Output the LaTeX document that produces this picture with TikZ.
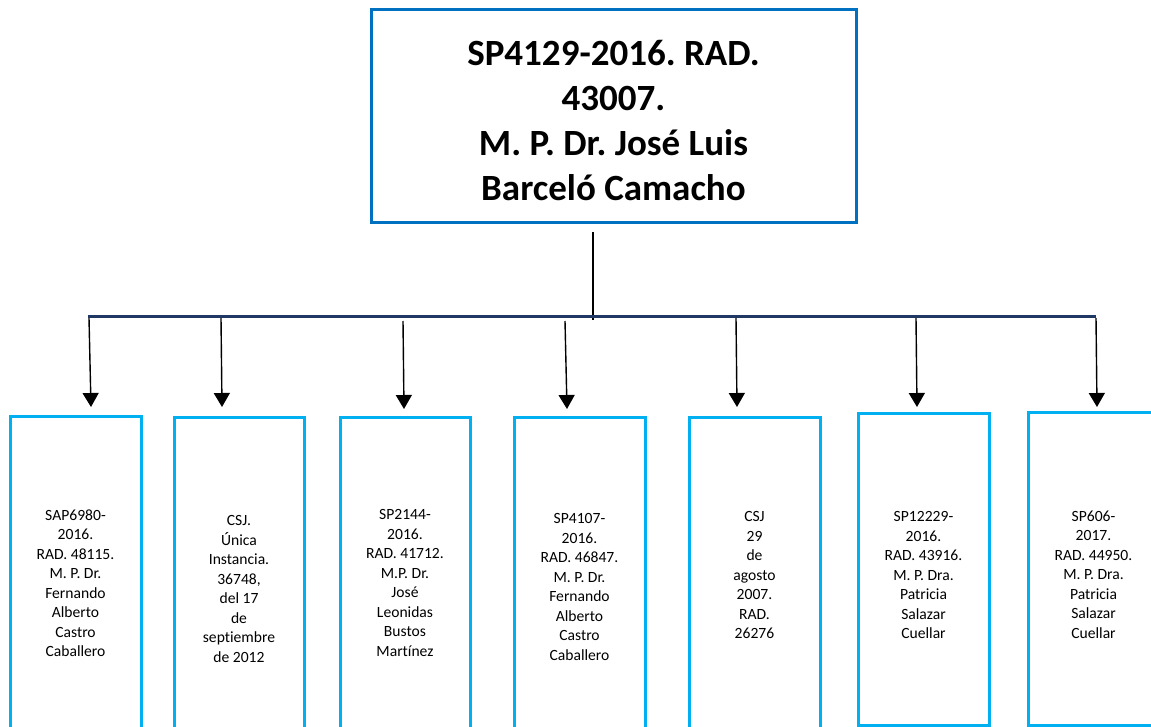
\documentclass[tikz,border=0pt]{standalone}
\usepackage{fontspec}
\setmainfont{Carlito}[Ligatures={NoCommon}]
\usetikzlibrary{arrows.meta}
\definecolor{topblue}{HTML}{0070C0}
\definecolor{cyanb}{HTML}{00B0F0}
\definecolor{navyb}{HTML}{1F3864}
\frenchspacing
\begin{document}
\frenchspacing
\begin{tikzpicture}[x=1pt,y=-1pt,
  titlebox/.style={draw=topblue,line width=3pt,minimum width=485pt,minimum height=213pt,inner sep=0pt,align=center,font=\fontsize{37}{45}\selectfont\bfseries},
  leafbox/.style={draw=cyanb,line width=3pt,minimum width=131pt,inner sep=0pt,align=center,font=\fontsize{15.6}{19.5}\selectfont},
  arr/.style={-{Triangle[width=16pt,length=14pt]},line width=1.4pt,black},
  bus/.style={draw=navyb,line width=3pt},
  stem/.style={draw=black,line width=2pt},
]
\useasboundingbox (0,0) rectangle (1151,727);
\clip (0,0) rectangle (1151,727);

\node[titlebox] (top) at (613.5,116.5) {\rule{0pt}{34pt}SP4129-2016. RAD.\\43007.\\M. P. Dr. José Luis\\Barceló Camacho};

\coordinate (stemtop) at (593,232);
\coordinate (stembot) at (593,320);
\draw[stem] (stemtop) -- (stembot);

\coordinate (busL) at (88,316);
\coordinate (busR) at (1096,316);
\draw[bus] (busL) -- (busR);

\node[leafbox,minimum height=334pt] (b1) at (75.5,583) {SAP6980-\\2016.\\RAD. 48115.\\M. P. Dr.\\Fernando\\Alberto\\Castro\\Caballero};
\node[leafbox,minimum height=344pt,minimum width=130pt] (b2) at (239,589) {CSJ.\\Única\\Instancia.\\36748,\\del 17\\de\\septiembre\\de 2012};
\node[leafbox,minimum height=332pt,minimum width=130pt] (b3) at (405,583) {SP2144-\\2016.\\RAD. 41712.\\M.P. Dr.\\José\\Leonidas\\Bustos\\Martínez};
\node[leafbox,minimum height=340pt] (b4) at (579.5,587) {SP4107-\\2016.\\RAD. 46847.\\M. P. Dr.\\Fernando\\Alberto\\Castro\\Caballero};
\node[leafbox,minimum height=316pt] (b5) at (754.5,575) {CSJ\\29\\de\\agosto\\2007.\\RAD.\\26276};
\node[leafbox,minimum height=312pt] (b6) at (923.5,569) {\rule{0pt}{23pt}SP12229-\\2016.\\RAD. 43916.\\M. P. Dra.\\Patricia\\Salazar\\Cuellar};
\node[leafbox,minimum height=313pt] (b7) at (1093.5,568.5) {\rule{0pt}{23pt}SP606-\\2017.\\RAD. 44950.\\M. P. Dra.\\Patricia\\Salazar\\Cuellar};

\coordinate (a1s) at (89,318);  \coordinate (a1e) at (91,407);
\coordinate (a2s) at (221,318); \coordinate (a2e) at (222,407);
\coordinate (a3s) at (403,321); \coordinate (a3e) at (404,409);
\coordinate (a4s) at (565,321); \coordinate (a4e) at (567,409);
\coordinate (a5s) at (736,318); \coordinate (a5e) at (737,407);
\coordinate (a6s) at (916,318); \coordinate (a6e) at (917,407);
\coordinate (a7s) at (1096,318);\coordinate (a7e) at (1097,407);
\foreach \i in {1,...,7} \draw[arr] (a\i s) -- (a\i e);
\end{tikzpicture}
\end{document}
